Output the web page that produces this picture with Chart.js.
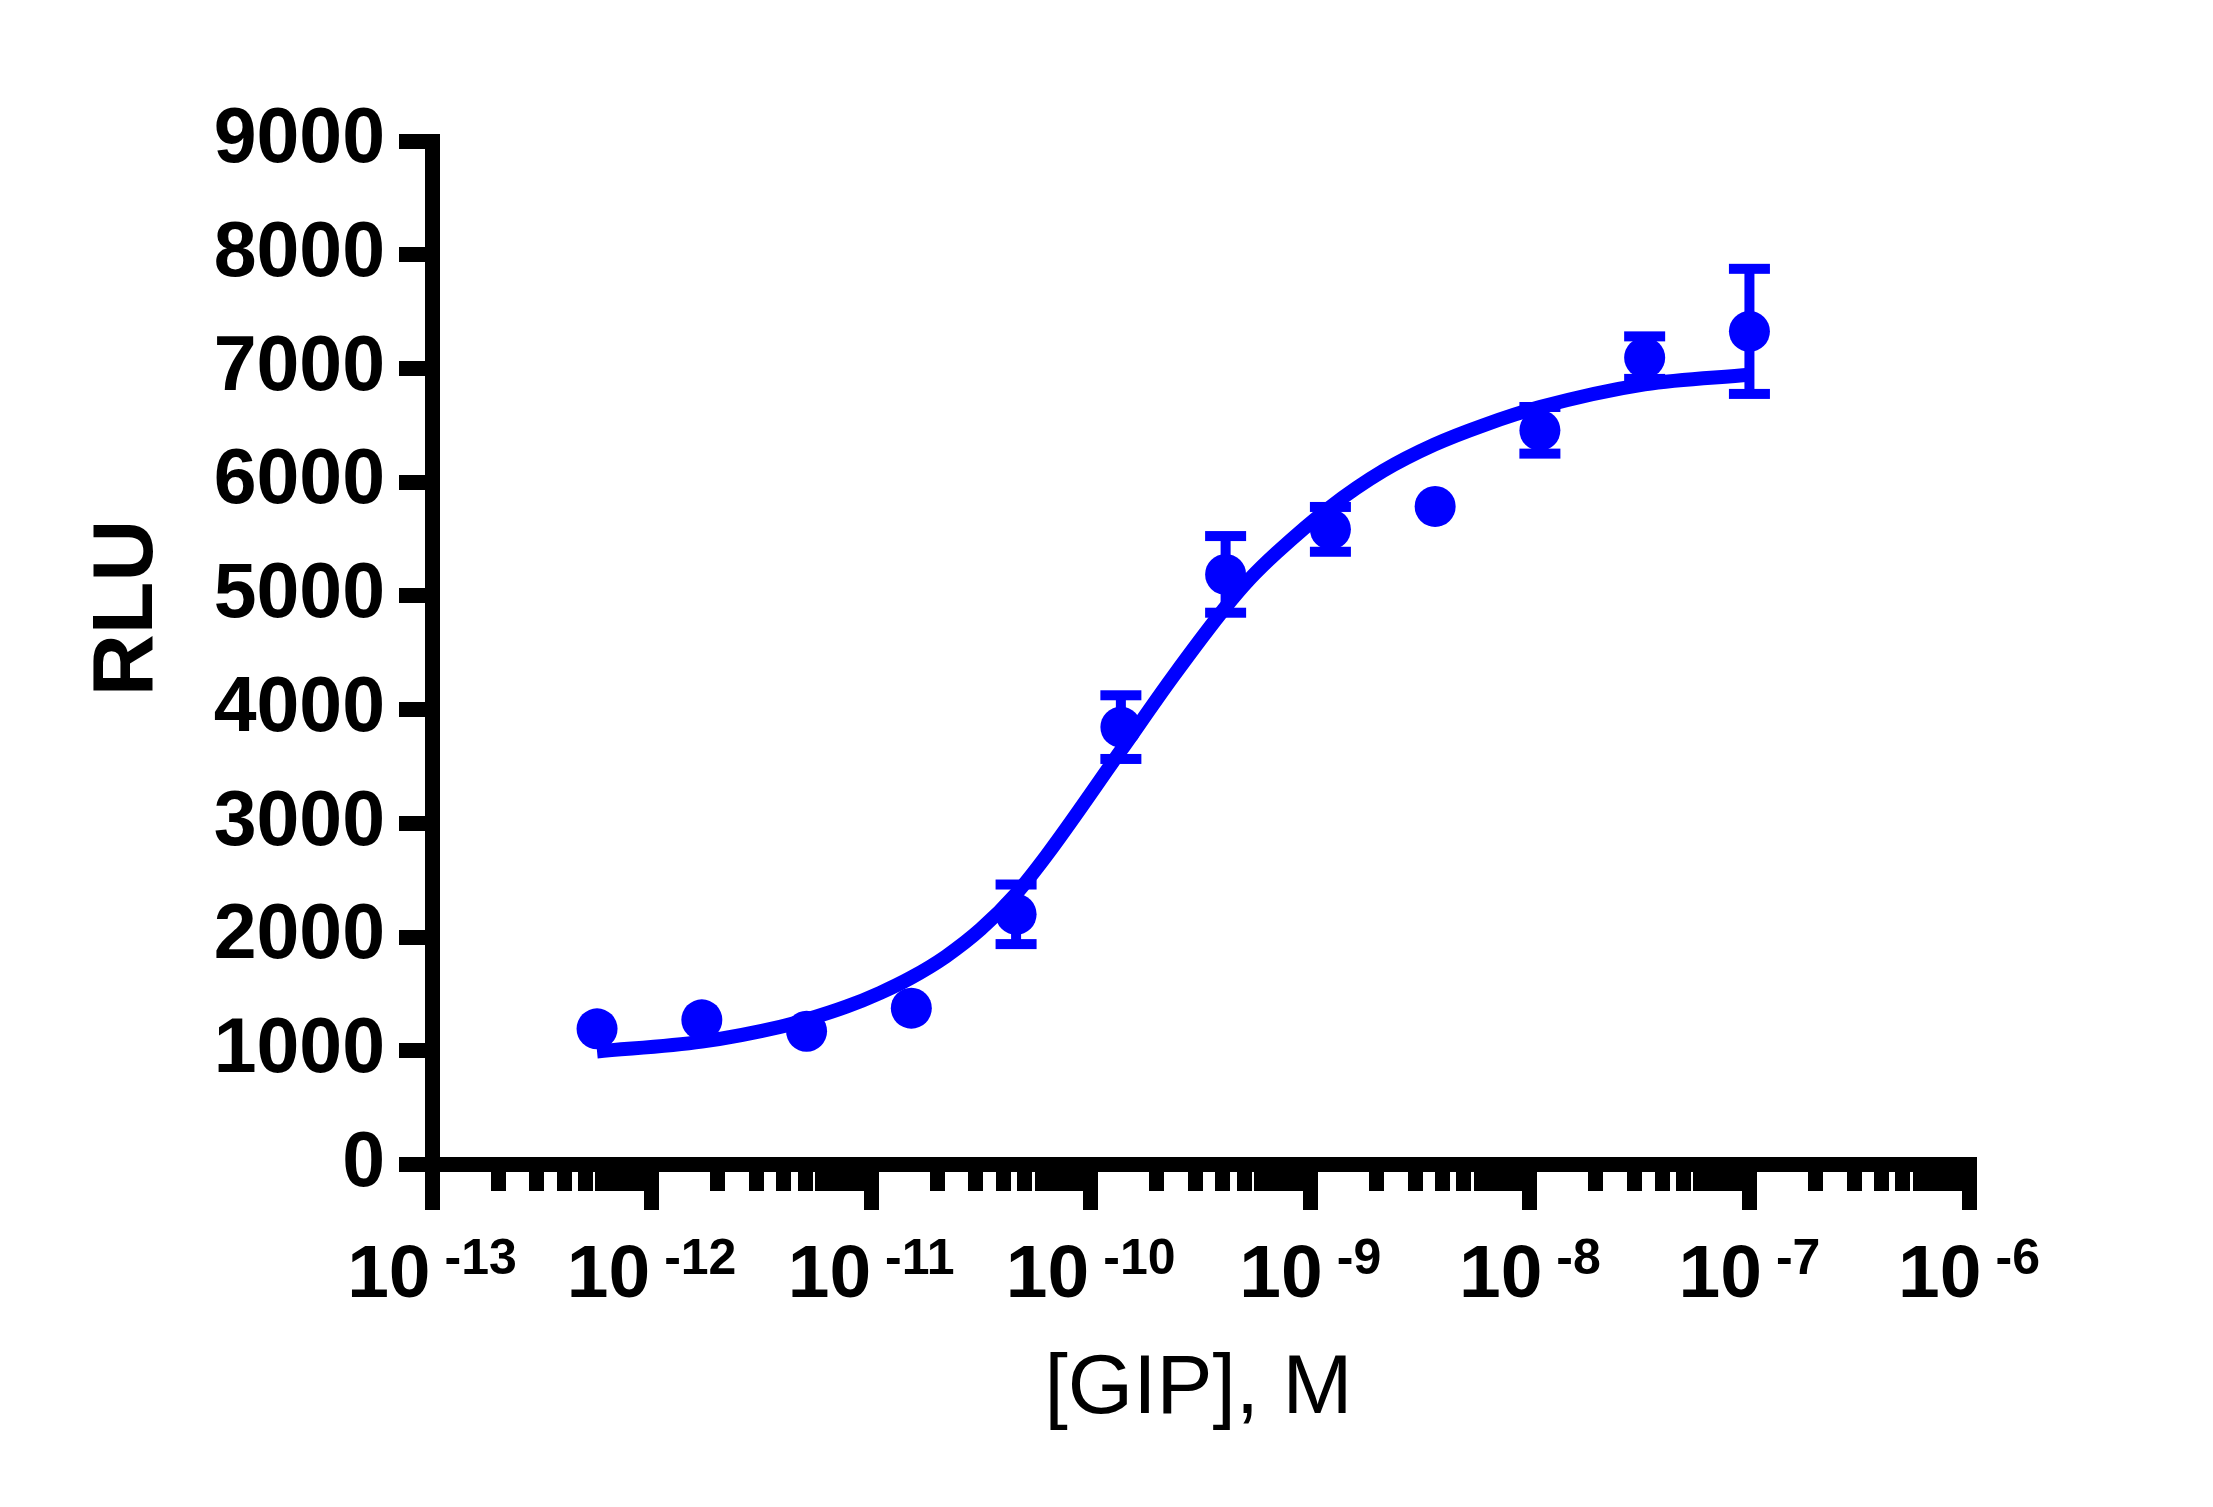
<!DOCTYPE html>
<html>
<head>
<meta charset="utf-8">
<title>GIP dose response</title>
<script src="https://cdn.jsdelivr.net/npm/chart.js@4.4.1/dist/chart.umd.min.js"></script>
<style>
    html, body { margin: 0; padding: 0; background: #fff; }
    canvas { display: block; }
</style>
</head>
<body>
<canvas id="doseChart" width="2213" height="1507" style="width:2213px;height:1507px"></canvas>
<script>
// Concentrations of GIP (M), 3-fold dilution series
const gipConc = [5.645e-13, 1.694e-12, 5.081e-12, 1.524e-11, 4.572e-11, 1.372e-10,
                 4.115e-10, 1.235e-9, 3.704e-9, 1.111e-8, 3.333e-8, 1.0e-7];
// Mean RLU and error (0 = bar hidden behind the marker)
const rluMean = [1193, 1272, 1172, 1375, 2200, 3846, 5189, 5585, 5787, 6456, 7095, 7326];
const rluErr = [0, 0, 0, 0, 262, 280, 337, 197, 0, 205, 187, 550];

// Fitted curve
const fitConc = [5.645e-13, 1.694e-12, 3.85e-12, 5.0e-12, 7.76e-12, 1.10e-11, 1.51e-11,
                 2.19e-11, 3.16e-11, 4.57e-11, 6.31e-11, 1.372e-10, 2.37e-10, 4.11e-10,
                 5.31e-10, 7.03e-10, 1.23e-9, 2.15e-9, 3.67e-9, 6.14e-9, 1.111e-8,
                 3.333e-8, 1.0e-7];
const fitRlu = [994, 1080, 1210, 1270, 1390, 1510, 1640,
                1830, 2070, 2380, 2720, 3640, 4290, 4900,
                5150, 5380, 5780, 6100, 6330, 6500, 6660,
                6860, 6945];

// Axis ticks
const decadeExps = [-13, -12, -11, -10, -9, -8, -7, -6];
const minorSteps = [2, 3, 4, 5, 6, 7, 8, 9];
const yTicks = [0, 1000, 2000, 3000, 4000, 5000, 6000, 7000, 8000, 9000];

const BLUE = "#0000ff";
const FONT = "'Liberation Sans', Arial, Helvetica, sans-serif";
const AXIS_W = 15;
const MAJOR_TICK = 45.5;
const ERR_W = 10;
const CAP_W = 41;

// log tick values: every decade plus 2..9 in between
const xTickValues = [];
decadeExps.forEach((e, i) => {
    xTickValues.push(Math.pow(10, e));
    if (i < decadeExps.length - 1) {
        minorSteps.forEach(m => xTickValues.push(m * Math.pow(10, e)));
    }
});

// Error bars drawn through the scales
const errorBars = {
    id: "errorBars",
    afterDatasetsDraw(chart) {
        const { ctx, scales: { x, y } } = chart;
        ctx.save();
        ctx.fillStyle = BLUE;
        gipConc.forEach((c, i) => {
            const e = rluErr[i];
            if (!e) return;
            const px = x.getPixelForValue(c);
            const top = y.getPixelForValue(rluMean[i] + e);
            const bot = y.getPixelForValue(rluMean[i] - e);
            ctx.fillRect(px - ERR_W / 2, top, ERR_W, bot - top);
            ctx.fillRect(px - CAP_W / 2, top - ERR_W / 2, CAP_W, ERR_W);
            ctx.fillRect(px - CAP_W / 2, bot - ERR_W / 2, CAP_W, ERR_W);
        });
        ctx.restore();
    }
};

// Long decade ticks, 10^n labels and axis titles
const axisDecor = {
    id: "axisDecor",
    afterDraw(chart) {
        const { ctx, scales: { x } } = chart;
        ctx.save();
        ctx.fillStyle = "#000";

        decadeExps.forEach(e => {
            const left = Math.round(x.getPixelForValue(Math.pow(10, e)) - AXIS_W / 2);
            ctx.fillRect(left, x.top, AXIS_W, MAJOR_TICK);
        });

        const baseFont = "bold 75px " + FONT;
        const supFont = "bold 50px " + FONT;
        const gap = 14;
        ctx.textAlign = "left";
        ctx.textBaseline = "alphabetic";
        decadeExps.forEach(e => {
            const px = x.getPixelForValue(Math.pow(10, e));
            const sup = String(e);
            ctx.font = baseFont;
            const wBase = ctx.measureText("10").width;
            ctx.font = supFont;
            const wSup = ctx.measureText(sup).width;
            const start = px - (wBase + gap + wSup) / 2;
            ctx.font = baseFont;
            ctx.fillText("10", start, 1297);
            ctx.font = supFont;
            ctx.fillText(sup, start + wBase + gap, 1274);
        });

        // x title
        ctx.font = "84px " + FONT;
        ctx.textAlign = "center";
        ctx.fillText("[GIP], M", (x.left + x.right) / 2 - 2, 1413);

        // y title
        ctx.font = "bold 86px " + FONT;
        ctx.translate(152, 608);
        ctx.rotate(-Math.PI / 2);
        ctx.fillText("RLU", 0, 0);
        ctx.restore();
    }
};

const ctx = document.getElementById("doseChart").getContext("2d");
const chart = new Chart(ctx, {
    type: "scatter",
    data: {
        datasets: [
            {
                label: "fit",
                data: fitConc.map((c, i) => ({ x: c, y: fitRlu[i] })),
                showLine: true,
                borderColor: BLUE,
                borderWidth: 14,
                pointRadius: 0,
                pointHoverRadius: 0,
                cubicInterpolationMode: "monotone",
                fill: false
            },
            {
                label: "GIP",
                data: gipConc.map((c, i) => ({ x: c, y: rluMean[i] })),
                showLine: false,
                backgroundColor: BLUE,
                borderWidth: 0,
                pointRadius: 20.5,
                pointHoverRadius: 20.5
            }
        ]
    },
    options: {
        responsive: false,
        devicePixelRatio: 1,
        animation: false,
        events: [],
        layout: {
            padding: { left: 0, right: 244, top: 141, bottom: 0 }
        },
        plugins: {
            legend: { display: false },
            tooltip: { enabled: false }
        },
        scales: {
            x: {
                type: "logarithmic",
                position: "bottom",
                min: 1e-13,
                max: 1e-6,
                afterBuildTicks: axis => {
                    axis.ticks = xTickValues.map(v => ({ value: v }));
                },
                afterFit: axis => { axis.height = 1507 - 1164.5; },
                ticks: { display: false, autoSkip: false },
                grid: {
                    drawOnChartArea: false,
                    drawTicks: true,
                    tickLength: 26.5,
                    tickWidth: AXIS_W,
                    lineWidth: AXIS_W,
                    tickColor: "#000"
                },
                border: { display: true, width: AXIS_W, color: "#000" }
            },
            y: {
                position: "left",
                min: 0,
                max: 9000,
                afterBuildTicks: axis => {
                    axis.ticks = yTicks.map(v => ({ value: v }));
                },
                afterFit: axis => { axis.width = 432; },
                ticks: {
                    autoSkip: false,
                    padding: 14,
                    color: "#000",
                    font: { family: FONT, size: 77, weight: "bold" },
                    callback: v => String(v)
                },
                grid: {
                    drawOnChartArea: false,
                    drawTicks: true,
                    tickLength: 33,
                    tickWidth: AXIS_W,
                    lineWidth: AXIS_W,
                    tickColor: "#000"
                },
                border: { display: true, width: AXIS_W, color: "#000" }
            }
        }
    },
    plugins: [errorBars, axisDecor]
});
</script>
</body>
</html>
